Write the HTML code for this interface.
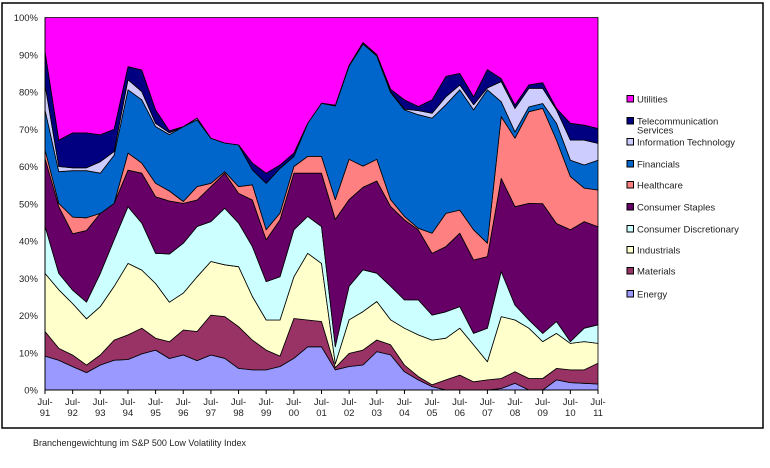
<!DOCTYPE html>
<html><head><meta charset="utf-8"><style>
body{margin:0;background:#fff;width:770px;height:468px;overflow:hidden;font-family:"Liberation Sans",sans-serif}
svg{position:absolute;left:0;top:0}
</style></head><body>
<svg id="chart" width="770" height="468">
<rect x="2" y="3" width="761" height="425" fill="#fff" stroke="#000" stroke-width="1.5"/>
<g id="areas"></g>
<g id="axes"></g>
<g id="legend"></g>
<text x="33" y="446" font-size="9" fill="#222">Branchengewichtung im S&amp;P 500 Low Volatility Index</text>
</svg>
<script>
// semiannual samples, Jul-91 .. Jul-11 (41 points), % weights
const xLabels = ["91","92","93","94","95","96","97","98","99","00","01","02","03","04","05","06","07","08","09","10","11"];
const yTicks = [0,10,20,30,40,50,60,70,80,90,100];
const energy = [9.1,8,6.3,4.7,6.7,8,8.2,9.7,10.7,8.5,9.4,7.9,9.4,8.5,5.8,5.4,5.4,6.3,8.5,11.6,11.6,5.4,6.3,6.7,10.3,9.4,4.9,2.7,0.9,0,0,0,0,0.4,1.8,0,0,2.7,2,1.8,1.6];
const materials = [6.6,3.2,3.1,2,2.7,5.4,6.6,6.9,3.2,4.5,6.7,7.8,10.7,11.2,11.2,8,5.3,2.8,10.7,7.2,6.8,0.6,3.5,4,3.1,2.7,1.8,0.9,0.5,2.7,4,2.2,2.7,2.7,3.1,3.1,3.1,3.1,3.4,3.6,5.6];
const industrials = [15.6,15.7,13.9,12.5,13,14.4,19.2,15.6,14.7,10.7,9.9,14.7,14.4,13.9,16.1,11.7,8.1,9.7,11.2,17.9,15.6,1.0,9,10.3,10.3,6.7,9.9,11.2,12,11.2,12.6,9.9,4.9,16.6,13.9,13.5,9.9,9.4,7.1,7.6,5.3];
const consDisc = [12.7,4.4,3.6,4.5,8.9,12.5,15.2,12.6,8.1,13,13.4,13.5,10.7,15.2,11.7,13.4,10.3,11.6,12.6,9.9,9.9,4.6,9,11.2,7.6,9,7.6,9.4,6.7,7.1,5.8,3.1,9,12.1,4,2.2,2.2,3.2,0.5,3.6,5];
const consStaples = [18.2,17.9,15.2,19.3,16.1,9.8,9.8,13.4,15.2,14.3,10.7,7.1,9.4,9.4,8,12.5,11.2,15.3,15.2,11.6,14.3,34.1,23.2,22.1,24.7,21.4,21.5,18.8,16.6,17.5,19.7,19.7,19.2,25,26.4,31.3,34.8,26.3,30,28.6,26.3];
const healthcare = [2.3,0.9,4.5,3.4,0,0,4.6,2.7,3.6,2.7,0.5,3.6,0.9,0.4,1.8,4.1,2.7,1.8,1.8,4.5,4.5,5.3,10.8,5.7,5.8,1.8,0.9,0.4,5.4,8.9,6.2,8.1,3.6,16.6,18.4,24.6,25.6,22.4,14.3,9,9.9];
const financials = [10.7,8.5,12.5,12.7,10.8,12.9,17,17,15.2,15.2,20.1,17.9,12.1,7.7,11.2,4,12.5,12,2.7,8.9,14.3,25.1,25,32.7,27.7,28.7,28.6,30.5,30.9,29.2,32.3,32.2,41.2,4,1.7,1.3,1.3,4.5,4.4,6.2,8];
const infoTech = [6.8,1.4,0.8,0.8,3.1,1,2.7,2.2,0.9,0.5,0,0.5,0,0,0,0,0,0,0,0,0,0.2,0.2,0.2,0.2,0.2,0.2,1.1,1.3,2.1,1.3,1.4,0.5,5.4,6.3,5,4.1,3.6,5.4,6.7,4.5];
const telecom = [8.9,7.1,9.4,9.4,7.2,6,3.5,5.8,3.6,0.5,0,0,0,0,0,1.8,2.7,0.9,0.9,0,0,0,0,0.2,0.2,0.7,2.5,1.1,3.6,5.5,3.1,2.1,4.9,0.8,0.9,0.9,1.5,0.4,4.5,4,4];
const utilities = [9.1,32.9,31.1,31.1,31.5,30,13.2,14.1,24.8,30.6,29.3,27,32.4,33.7,34.2,39.1,41.8,39.6,36.4,28.4,23,23.5,12.8,6.7,9.9,19.2,22.1,23.9,22.1,15.8,15,21.3,14,16.4,23.5,18.1,17.5,24.4,28.4,28.9,29.8];
const seriesNames = ["Energy","Materials","Industrials","Consumer Discretionary","Consumer Staples","Healthcare","Financials","Information Technology","Telecommunication Services","Utilities"];
const seriesData = [energy,materials,industrials,consDisc,consStaples,healthcare,financials,infoTech,telecom,utilities];
const colors = ["#9999ff","#993366","#ffffcc","#ccffff","#660066","#ff8080","#0066cc","#ccccff","#000080","#ff00ff"];

const NS="http://www.w3.org/2000/svg";
const X0=45,X1=598,Y0=390,Y1=17.5;
const nPts=energy.length;
function xScale(i){return X0+(X1-X0)*i/(nPts-1);}
function yScale(p){return Y0-(Y0-Y1)*p/100;}
function mk(tag,attrs,parent){const e=document.createElementNS(NS,tag);for(const k in attrs)e.setAttribute(k,attrs[k]);parent.appendChild(e);return e;}

const totals=[];for(let i=0;i<nPts;i++){let s=0;for(const d of seriesData)s+=d[i];totals.push(s);}
const areas=document.getElementById('areas');
let base=new Array(nPts).fill(0);
seriesData.forEach((d,si)=>{
  const top=base.map((b,i)=>b+d[i]/totals[i]*100);
  let pts=[];
  for(let i=0;i<nPts;i++)pts.push(xScale(i).toFixed(1)+","+yScale(top[i]).toFixed(1));
  for(let i=nPts-1;i>=0;i--)pts.push(xScale(i).toFixed(1)+","+yScale(base[i]).toFixed(1));
  const p=mk('polygon',{points:pts.join(' '),fill:colors[si],stroke:'#000','stroke-width':0.8,'stroke-linejoin':'round'},areas);
  
  
  base=top;
});

const axes=document.getElementById('axes');
mk('line',{x1:X0,y1:Y0,x2:X1,y2:Y0,stroke:'#000','stroke-width':1},axes);
mk('line',{x1:X0,y1:Y1,x2:X0,y2:Y0,stroke:'#000','stroke-width':1},axes);
yTicks.forEach(v=>{
  const t=mk('text',{x:X0-7,y:yScale(v)+3.5,'font-size':9.5,'text-anchor':'end',fill:'#222'},axes);
  t.textContent=v+'%';
  
  
});
xLabels.forEach((l,i)=>{
  const x=X0+(X1-X0)*i/(xLabels.length-1);
  mk('line',{x1:x,y1:Y0,x2:x,y2:Y0+4,stroke:'#000','stroke-width':1},axes);
  const t=mk('text',{x:x,y:405,'font-size':9.5,'text-anchor':'middle',fill:'#222'},axes);
  t.textContent='Jul-';
  
  
  const t2=mk('text',{x:x,y:416,'font-size':9.5,'text-anchor':'middle',fill:'#222'},axes);
  t2.textContent=l;
  
  
});

const legend=document.getElementById('legend');
const legY=[294,271,250,229,207,185,164,142,121,99];
for(let si=seriesData.length-1;si>=0;si--){
  const g=mk('g',{},legend);
  
  
  mk('rect',{x:627,y:legY[si]-3.5,width:6.5,height:6.5,fill:colors[si],stroke:'#000','stroke-width':1},g);
  if(si===8){
    const a=mk('text',{x:637,y:legY[si]+3.5,'font-size':9.5,fill:'#222'},g);a.textContent='Telecommunication';
    const b=mk('text',{x:637,y:legY[si]+12.5,'font-size':9.5,fill:'#222'},g);b.textContent='Services';
  } else {
    const a=mk('text',{x:637,y:legY[si]+3.5,'font-size':9.5,fill:'#222'},g);a.textContent=seriesNames[si];
  }
}
</script>
</body></html>
